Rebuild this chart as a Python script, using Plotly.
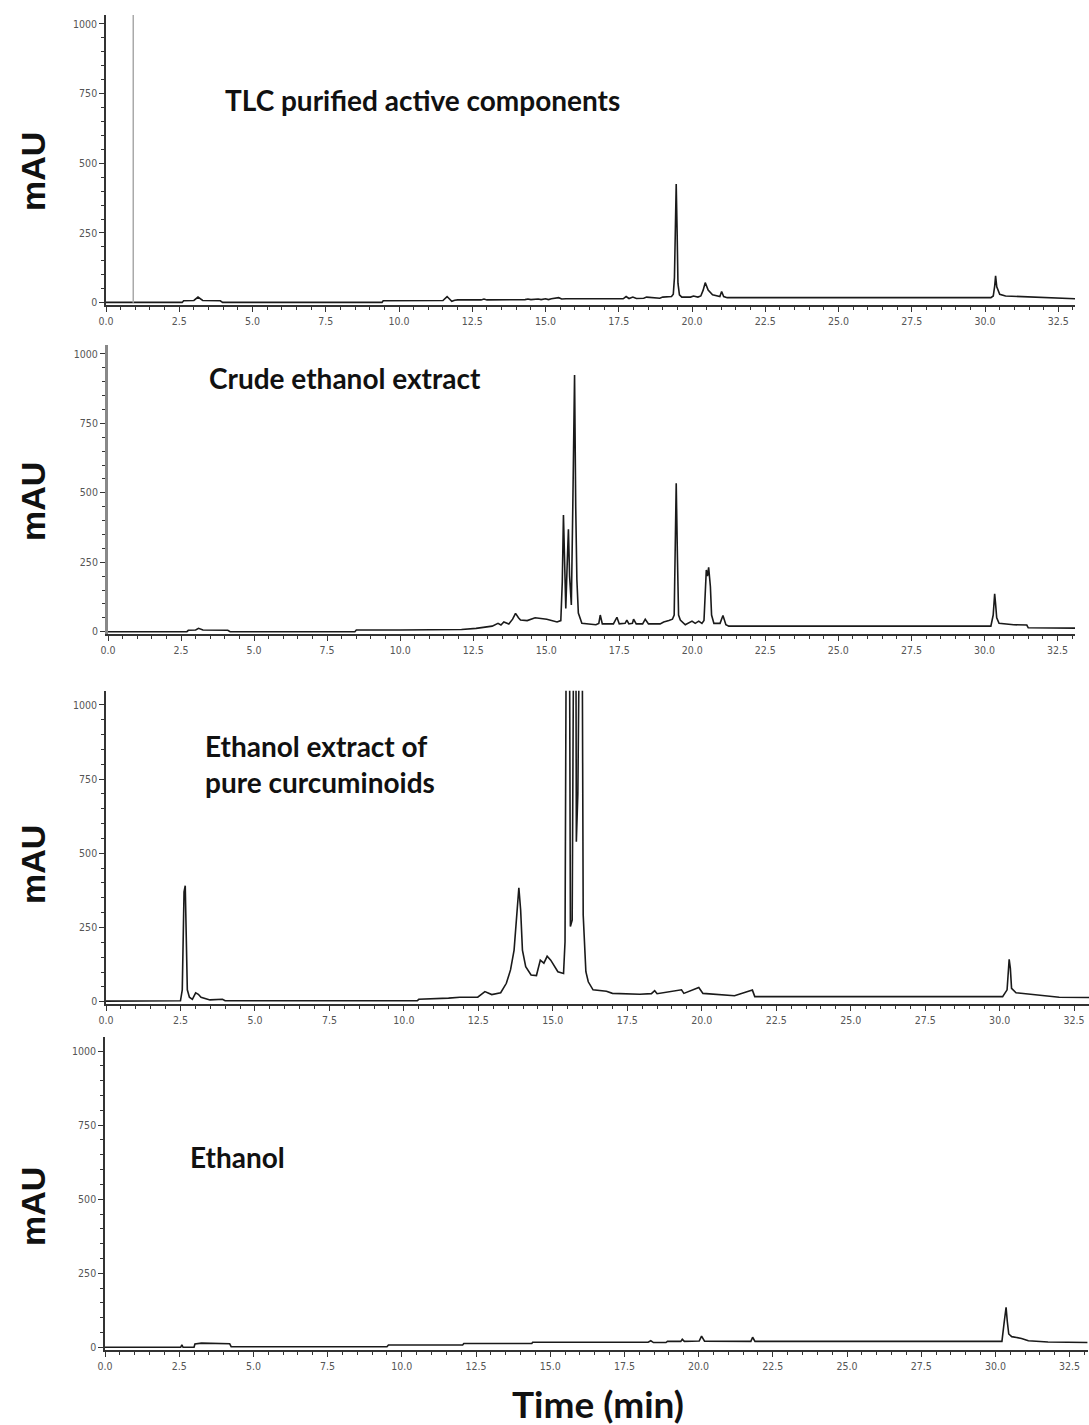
import plotly.graph_objects as go

W, H = 1089, 1425

# ---------------- data ----------------
tlc_t = [0, 2.6, 2.65, 3.0, 3.14, 3.3, 3.9, 3.98, 9.42, 9.46, 11.5, 11.64, 11.8, 11.9, 12.0,
         12.8, 12.9, 13.0, 14.3, 14.4, 14.5, 14.75, 14.85, 15.0, 15.1, 15.2, 15.45, 15.55, 15.7,
         17.65, 17.75, 17.85, 17.98, 18.1, 18.35, 18.45, 18.9, 19.0, 19.3, 19.36, 19.40, 19.43,
         19.46, 19.49, 19.52, 19.57, 19.65, 19.95, 20.05, 20.2, 20.3, 20.38, 20.45, 20.55, 20.7,
         20.95, 21.01, 21.08, 21.2, 30.2, 30.28, 30.33, 30.36, 30.4, 30.5, 30.7, 31.2, 31.3, 33.1]
tlc_v = [1, 1, 7, 8, 20, 8, 7, 1, 1, 7, 8, 22, 5, 9, 10,
         10, 13, 10, 11, 13, 11, 13, 11, 14, 11, 14, 18, 13, 14,
         14, 22, 15, 20, 15, 16, 20, 16, 20, 22, 30, 90, 300,
         426, 260, 70, 28, 20, 20, 24, 20, 24, 45, 72, 45, 28,
         22, 40, 22, 18, 18, 24, 60, 96, 57, 30, 24, 22, 20, 14, 13]

crude_t = [0, 2.7, 2.75, 3.0, 3.1, 3.25, 4.1, 4.18, 8.45, 8.5, 10.0, 12.1, 12.6, 13.15, 13.35,
           13.45, 13.55, 13.72, 13.85, 13.95, 14.05, 14.12, 14.35, 14.62, 15.02, 15.37, 15.5,
           15.55, 15.59, 15.63, 15.67, 15.72, 15.76, 15.80, 15.86, 15.91, 15.97, 16.01, 16.05,
           16.1, 16.22, 16.7, 16.8, 16.85, 16.92, 17.3, 17.42, 17.5, 17.7, 17.76, 17.83, 17.95,
           17.99, 18.08, 18.3, 18.39, 18.5, 18.9, 19.02, 19.2, 19.32, 19.38, 19.42, 19.45, 19.49,
           19.53, 19.59, 19.76, 19.99, 20.1, 20.22, 20.33, 20.40, 20.44, 20.48, 20.52, 20.56,
           20.62, 20.66, 20.74, 20.95, 21.05, 21.15, 21.25, 30.22, 30.3, 30.35, 30.38, 30.42,
           30.5, 31.0, 31.45, 31.5, 33.1]
crude_v = [0, 0, 5, 6, 12, 6, 5, 0, 0, 6, 6, 8, 12, 20, 30,
           24, 35, 28, 45, 66, 50, 42, 40, 50, 45, 35, 40,
           180, 420, 230, 84, 250, 369, 200, 96, 450, 924, 450, 186,
           67, 30, 25, 30, 60, 28, 28, 52, 28, 30, 42, 28, 30,
           45, 28, 28, 45, 28, 28, 35, 40, 45, 60, 276, 534, 276,
           60, 42, 25, 38, 30, 38, 30, 40, 162, 222, 200, 232,
           162, 60, 30, 30, 58, 25, 20, 20, 60, 136, 102, 50,
           30, 25, 24, 14, 13]

pure_t = [0, 2.5, 2.56, 2.62, 2.66, 2.69, 2.73, 2.8, 2.9, 3.01, 3.1, 3.19, 3.49, 3.91, 4.0,
          10.45, 10.5, 11.5, 11.88, 12.48, 12.72, 12.95, 13.25, 13.44, 13.58, 13.7, 13.79, 13.86,
          13.92, 13.98, 14.09, 14.27, 14.45, 14.58, 14.7, 14.81, 14.93, 15.17, 15.36, 15.41,
          15.46, 15.5, 15.55, 15.59, 15.65, 15.72, 15.77, 15.79, 15.84, 15.9, 15.96, 16.02,
          16.11, 16.19, 16.35, 16.8, 17.0, 17.92, 18.31, 18.42, 18.5, 19.32, 19.4, 19.9, 20.04,
          21.1, 21.7, 21.78, 30.1, 30.25, 30.32, 30.36, 30.4, 30.55, 31.0, 32.0, 33.0]
pure_v = [2, 3, 40, 370, 391, 202, 40, 15, 8, 30, 25, 15, 6, 8, 3,
          3, 8, 12, 15, 15, 34, 24, 30, 62, 107, 174, 298, 384,
          309, 174, 118, 90, 88, 140, 130, 153, 140, 101, 95, 202,
          1500, 1800, 1600, 253, 275, 1700, 1500, 539, 700, 1400, 2000, 292,
          101, 67, 40, 35, 28, 25, 27, 37, 27, 40, 28, 48, 28,
          20, 39, 17, 17, 40, 143, 112, 45, 30, 25, 15, 14]

eth_t = [0, 2.55, 2.59, 2.63, 3.0, 3.03, 3.25, 4.2, 4.25, 9.5, 9.55, 12.05, 12.09, 14.38, 14.41,
         18.3, 18.39, 18.48, 18.9, 18.95, 19.4, 19.45, 19.52, 20.02, 20.1, 20.2, 21.76, 21.82,
         21.9, 30.22, 30.3, 30.36, 30.4, 30.45, 30.55, 30.88, 31.11, 31.77, 33.1]
eth_v = [0, 0, 8, 0, 0, 11, 14, 12, 2, 2, 8, 8, 13, 13, 17,
         17, 22, 16, 16, 20, 20, 27, 20, 21, 38, 21, 20, 34,
         20, 20, 88, 135, 88, 45, 36, 30, 22, 18, 16]

titles = ["TLC purified active components", "Crude ethanol extract",
          "Ethanol extract of<br>pure curcuminoids", "Ethanol"]
y_ticks = [0, 250, 500, 750, 1000]
x_ticks = [0.0, 2.5, 5.0, 7.5, 10.0, 12.5, 15.0, 17.5, 20.0, 22.5, 25.0, 27.5, 30.0, 32.5]
y_label = "mAU"
x_label = "Time (min)"

# ---------------- layout geometry (pixels) ----------------
panels = [
    dict(t=tlc_t, v=tlc_v, xpx=(106, 1075), xr=(0, 33.07), ypx=(15, 305), yr=(-8.3, 1032)),
    dict(t=crude_t, v=crude_v, xpx=(108, 1075), xr=(0, 33.1), ypx=(345, 634), yr=(-8.3, 1032)),
    dict(t=pure_t, v=pure_v, xpx=(106, 1089), xr=(0, 33.0), ypx=(690.7, 1004), yr=(-7.8, 1048)),
    dict(t=eth_t, v=eth_v, xpx=(105, 1088), xr=(0, 33.12), ypx=(1037, 1350), yr=(-9.1, 1047.6)),
]
title_pos = [(223, 100), (207, 378), (203, 764), (188, 1157)]
mau_y = [172, 502, 865, 1207]

fig = go.Figure()
tickfont = dict(family="DejaVu Sans Condensed, Liberation Sans Narrow, Arial", size=10.5, color="#555")

layout = dict(width=W, height=H, margin=dict(l=0, r=0, t=0, b=0),
              plot_bgcolor="white", paper_bgcolor="white", showlegend=False)

for i, p in enumerate(panels):
    n = "" if i == 0 else str(i + 1)
    fig.add_trace(go.Scatter(x=p["t"], y=p["v"], mode="lines",
                             line=dict(color="#1a1a1a", width=1.6),
                             xaxis="x" + n, yaxis="y" + n, hoverinfo="skip"))
    ylw, ylc = (3, "#888") if i == 1 else (1.5, "#333")
    layout["xaxis" + n] = dict(
        domain=[p["xpx"][0] / W, p["xpx"][1] / W], range=list(p["xr"]), anchor="y" + n,
        tickvals=x_ticks, ticktext=[f"{v:.1f}" for v in x_ticks], ticks="outside",
        ticklen=5, tickwidth=1.2, tickcolor="#333", showline=True, linecolor="#333",
        linewidth=2, showgrid=False, zeroline=False, tickfont=tickfont, automargin=False,
        minor=dict(dtick=0.5, tick0=0, ticks="outside", ticklen=3, tickcolor="#333", showgrid=False))
    layout["yaxis" + n] = dict(
        domain=[1 - p["ypx"][1] / H, 1 - p["ypx"][0] / H], range=list(p["yr"]), anchor="x" + n,
        tickvals=y_ticks, ticktext=[str(v) for v in y_ticks], ticks="outside",
        ticklen=5, tickwidth=1.2, tickcolor="#333", showline=True, linecolor=ylc,
        linewidth=ylw, showgrid=False, zeroline=False, tickfont=tickfont, automargin=False,
        minor=dict(dtick=50, tick0=0, ticks="outside", ticklen=3, tickcolor="#333", showgrid=False))

fig.update_layout(**layout)

# grey marker line in the first panel
fig.add_shape(type="line", xref="x", yref="y", x0=0.93, x1=0.93, y0=0, y1=1032,
              line=dict(color="#aaa", width=1.5))

ann = []
for (px, py), txt in zip(title_pos, titles):
    ann.append(dict(x=px / W, y=1 - py / H, xref="paper", yref="paper", text=f"<b>{txt}</b>",
                    showarrow=False, xanchor="left", yanchor="middle", align="left",
                    font=dict(family="Lato, Open Sans, sans-serif", size=28, color="#111")))
for py in mau_y:
    ann.append(dict(x=33 / W, y=1 - py / H, xref="paper", yref="paper", text=f"<b>{y_label}</b>",
                    showarrow=False, textangle=-90, xanchor="center", yanchor="middle",
                    font=dict(family="Liberation Sans, Arial", size=34, color="#111")))
ann.append(dict(x=598 / W, y=1 - 1403 / H, xref="paper", yref="paper", text=f"<b>{x_label}</b>",
                showarrow=False, xanchor="center", yanchor="middle",
                font=dict(family="Lato, Open Sans, sans-serif", size=37, color="#111")))
fig.update_layout(annotations=ann)

fig.write_html("out.html", config={"displayModeBar": False},
               post_script="document.body.style.margin='0';document.body.style.padding='0';")
